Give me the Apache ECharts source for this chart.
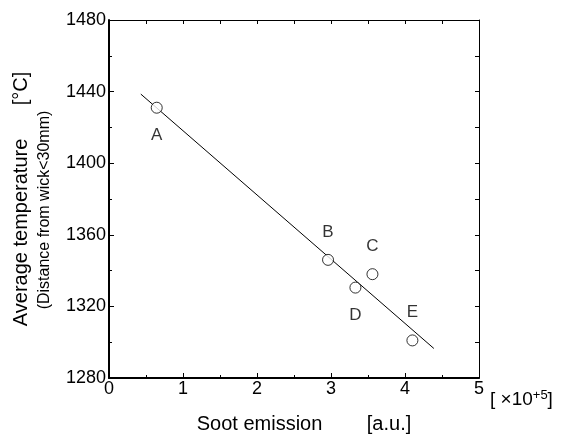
<!DOCTYPE html>
<html>
<head>
<meta charset="utf-8">
<script src="https://cdn.jsdelivr.net/npm/echarts@6/dist/echarts.min.js"></script>
<style>
  html, body { margin: 0; padding: 0; background: #fff; }
  #chart { width: 568px; height: 439px; }
</style>
</head>
<body>
<div id="chart"></div>
<script>
// Measured flames: soot emission (×10^5 a.u.) vs. average temperature
const pointNames = ['A', 'B', 'C', 'D', 'E'];
const sootEmission = [0.645, 2.96, 3.56, 3.33, 4.10];
const avgTemperature = [1431, 1346, 1338, 1330.5, 1301];
// label placement for each point: above (-1) or below (+1)
const labelSide = [1, -1, -1, 1, -1];

// Linear fit drawn across the data range
const fitX = [0.43, 4.39];
const fitY = [1438.6, 1296.5];

const xTicks = [0, 1, 2, 3, 4, 5];
const yTicks = [1280, 1320, 1360, 1400, 1440, 1480];

const font = 'Liberation Sans, Arial, sans-serif';
const chart = echarts.init(document.getElementById('chart'));

const pts = sootEmission.map((x, i) => ({
  value: [x, avgTemperature[i]],
  name: pointNames[i],
  label: { offset: [0, 28 * labelSide[i]] }
}));

chart.setOption({
  animation: false,
  backgroundColor: '#fff',
  grid: { left: 109, right: 89, top: 20, bottom: 60 },
  xAxis: [{
    type: 'value', min: xTicks[0], max: xTicks[xTicks.length - 1], interval: 1,
    position: 'bottom',
    axisLine: { onZero: false, lineStyle: { color: '#000', width: 2 } },
    axisTick: { inside: true, length: 5, lineStyle: { color: '#000' } },
    minorTick: { show: true, splitNumber: 2, length: 3, lineStyle: { color: '#000' } },
    splitLine: { show: false },
    axisLabel: { color: '#000', fontSize: 18, fontFamily: font, margin: 2, formatter: v => String(v) },
    name: 'Soot emission        [a.u.]',
    nameLocation: 'middle', nameGap: 36,
    nameTextStyle: { color: '#000', fontSize: 20, fontFamily: font, padding: [0, 0, 0, 20] }
  }, {
    type: 'value', min: 0, max: 5, interval: 0.5,
    position: 'top',
    axisLine: { onZero: false, lineStyle: { color: '#000', width: 1 } },
    axisTick: { inside: true, length: 4, lineStyle: { color: '#000' } },
    axisLabel: { show: false },
    splitLine: { show: false }
  }],
  yAxis: [{
    type: 'value', min: yTicks[0], max: yTicks[yTicks.length - 1], interval: 40,
    position: 'left',
    axisLine: { onZero: false, lineStyle: { color: '#000', width: 2 } },
    axisTick: { inside: true, length: 5, lineStyle: { color: '#000' } },
    minorTick: { show: true, splitNumber: 2, length: 3, lineStyle: { color: '#000' } },
    splitLine: { show: false },
    axisLabel: { color: '#000', fontSize: 18, fontFamily: font, margin: 3, formatter: v => String(v) },
    name: '{main|Average temperature      [°C]}\n{sub|(Distance from wick<30mm)}',
    nameLocation: 'middle', nameGap: 52, nameRotate: 90,
    nameTextStyle: {
      color: '#000', fontFamily: font, align: 'center',
      rich: {
        main: { fontSize: 20, fontFamily: font, color: '#000', lineHeight: 24 },
        sub: { fontSize: 16, fontFamily: font, color: '#000', lineHeight: 24, padding: [0, 22, 0, 0] }
      }
    }
  }, {
    type: 'value', min: 1280, max: 1480, interval: 20,
    position: 'right',
    axisLine: { onZero: false, lineStyle: { color: '#000', width: 1 } },
    axisTick: { inside: true, length: 4, lineStyle: { color: '#000' } },
    axisLabel: { show: false },
    splitLine: { show: false }
  }],
  graphic: [{
    type: 'text', left: 490, top: 389,
    style: {
      text: '[ ×10{sup|+5}]',
      fill: '#000', fontSize: 19, fontFamily: font,
      rich: { sup: { fontSize: 13, verticalAlign: 'top', padding: [0, 0, 9, 0], fill: '#000', fontFamily: font } }
    }
  }],
  series: [{
    type: 'line',
    data: fitX.map((x, i) => [x, fitY[i]]),
    symbol: 'none',
    lineStyle: { color: '#000', width: 1 },
    z: 2
  }, {
    type: 'scatter',
    data: pts,
    symbol: 'circle',
    symbolSize: 11,
    itemStyle: { color: '#fff', borderColor: '#000', borderWidth: 1 },
    label: {
      show: true, position: 'inside', formatter: p => p.name,
      color: '#000', fontSize: 17, fontFamily: font
    },
    z: 3
  }]
});
</script>
</body>
</html>
